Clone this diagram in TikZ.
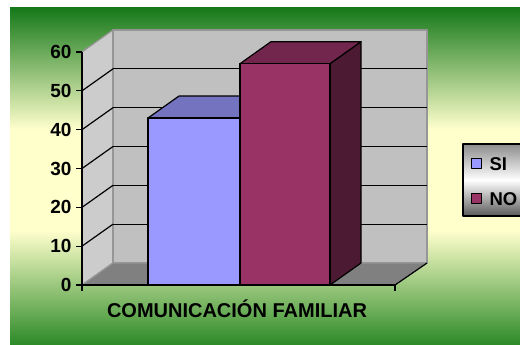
\documentclass[tikz,border=0pt]{standalone}
\usepackage{fontspec}
\setmainfont{Liberation Sans}

\definecolor{bgtop}{HTML}{16791A}
\definecolor{bgbottom}{HTML}{2C8A27}
\definecolor{bgpale}{HTML}{FFFFCC}
\definecolor{sideWall}{HTML}{CCCCCC}
\definecolor{backWall}{HTML}{C0C0C0}
\definecolor{floorGray}{HTML}{808080}
\definecolor{wallEdge}{HTML}{969696}
\definecolor{siFront}{HTML}{9999FF}
\definecolor{siTop}{HTML}{7373BF}
\definecolor{siSide}{HTML}{4D4D80}
\definecolor{noFront}{HTML}{993366}
\definecolor{noTop}{HTML}{73264D}
\definecolor{noSide}{HTML}{4D1A33}
\definecolor{legTop}{HTML}{8C8C8C}
\definecolor{legBottom}{HTML}{5A5A5A}

\pgfdeclareverticalshading{chartbg}{100bp}{color(0bp)=(bgbottom); color(25bp)=(bgbottom);
   color(42bp)=(bgpale); color(57bp)=(bgpale); color(75bp)=(bgtop); color(100bp)=(bgtop)}

% value -> y on the front plane
\def\yv#1{285-3.883*#1}
% bar: left x, right x, value, front, top, side
\def\colbar#1#2#3#4#5#6{
   \filldraw[fill=#6] (#2,285) -- ++(31,-22) -- ({#2+31},{\yv{#3}-22}) -- (#2,{\yv{#3}}) -- cycle;
   \filldraw[fill=#5] (#1,{\yv{#3}}) -- (#2,{\yv{#3}}) -- ++(31,-22) -- ({#1+31},{\yv{#3}-22}) -- cycle;
   \filldraw[fill=#4] (#1,285) rectangle (#2,{\yv{#3}});
}

\begin{document}
\begin{tikzpicture}[x=1pt, y=-1pt, line width=1.2pt, line join=round,
   ylab/.style={anchor=east, inner sep=0pt, font=\bfseries\fontsize{19}{22}\selectfont},
   legtext/.style={anchor=base west, inner sep=0pt, font=\bfseries\fontsize{18.5}{22}\selectfont},
   keybox/.style={draw, line width=1pt, minimum size=10pt, inner sep=0pt}]
   \useasboundingbox (0,0) rectangle (520,345);
   \shade[shading=chartbg] (10,8) rectangle (520,345);
   % walls and floor
   \filldraw[fill=sideWall, draw=wallEdge] (82,285) -- (113,263) -- (113,30) -- (82,52) -- cycle;
   \filldraw[fill=backWall, draw=wallEdge] (113,263) rectangle (427,30);
   \filldraw[fill=floorGray, draw=wallEdge] (82,285) -- (113,263) -- (427,263) -- (395,285) -- cycle;
   \draw (395,285) -- (427,263);
   \foreach \k in {1,...,5} {
      \draw (113,{263-38.83*\k}) -- (427,{263-38.83*\k});
      \draw (82,{285-38.83*\k}) -- (113,{263-38.83*\k});
   }
   \colbar{148}{240}{43}{siFront}{siTop}{siSide}
   \colbar{240}{330}{57}{noFront}{noTop}{noSide}
   % axes
   \draw (82,52) -- (82,291);
   \draw (82,285) -- (395,285) -- (395,291);
   \foreach \v [count=\k from 0] in {0,10,...,60} {
      \draw (76,{285-38.83*\k}) -- (82,{285-38.83*\k});
      \node (tick\v) [ylab] at (72,{285-38.83*\k}) {\v};
   }
   \node (title) [anchor=base, inner sep=0pt, font=\bfseries\fontsize{20}{24}\selectfont] at (237,317) {COMUNICACIÓN FAMILIAR};
   % legend
   \begin{scope}
      \clip (0,0) rectangle (520,345);
      \draw[top color=legTop, bottom color=legBottom, middle color=white] (463,144) rectangle (530,216);
   \end{scope}
   \node (siKey) [keybox, fill=siFront] at (476.5,163) {};
   \node (noKey) [keybox, fill=noFront] at (476.5,198) {};
   \node (siText) [legtext] at (489,170) {SI};
   \node (noText) [legtext] at (489,205) {NO};
\end{tikzpicture}
\end{document}
